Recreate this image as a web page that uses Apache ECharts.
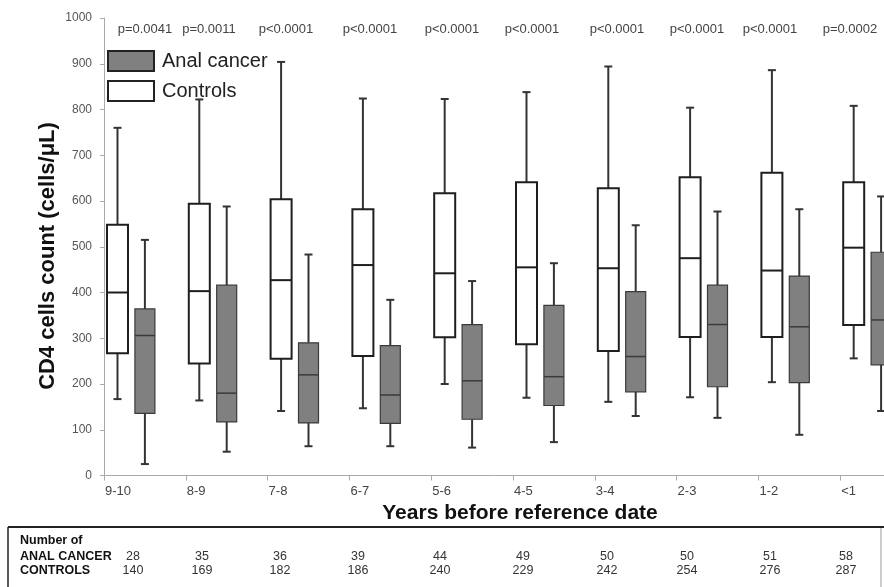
<!DOCTYPE html>
<html lang="en">
<head>
    <meta charset="UTF-8">
    <title>CD4 cells count before reference date</title>
    <script src="https://cdn.jsdelivr.net/npm/echarts@6/dist/echarts.min.js"></script>
    <style>
        html, body { margin: 0; padding: 0; background: #fff; }
        #chart { width: 884px; height: 587px; }
    </style>
</head>
<body>
<div id="chart"></div>
<script>
    // data
    var categories = ['9-10', '8-9', '7-8', '6-7', '5-6', '4-5', '3-4', '2-3', '1-2', '<1'];
    // [min, Q1, median, Q3, max]
    var controls = [
        [167, 267, 400, 548, 760],
        [164, 245, 403, 594, 822],
        [141, 255, 427, 604, 904],
        [147, 261, 460, 582, 824],
        [200, 302, 442, 617, 823],
        [170, 287, 455, 641, 838],
        [161, 272, 453, 628, 894],
        [171, 303, 475, 652, 804],
        [204, 303, 448, 662, 886],
        [256, 329, 498, 641, 808]
    ];
    var analCancer = [
        [25, 136, 306, 364, 515],
        [52, 117, 180, 416, 588],
        [64, 115, 220, 290, 483],
        [64, 114, 176, 284, 384],
        [61, 123, 207, 330, 425],
        [73, 153, 216, 372, 464],
        [130, 183, 260, 402, 547],
        [126, 194, 330, 416, 577],
        [89, 203, 325, 436, 582],
        [141, 242, 340, 488, 610]
    ];
    var pValues = ['p=0.0041', 'p=0.0011', 'p<0.0001', 'p<0.0001', 'p<0.0001',
        'p<0.0001', 'p<0.0001', 'p<0.0001', 'p<0.0001', 'p=0.0002'];
    var nCancer = [28, 35, 36, 39, 44, 49, 50, 50, 51, 58];
    var nControls = [140, 169, 182, 186, 240, 229, 242, 254, 276, 287];

    // layout (pixels)
    var pX = [145, 209, 286, 370, 452, 532, 617, 697, 770, 850];
    var colX = [133, 202, 280, 358, 440, 523, 607, 687, 770, 846];

    function toItems(rows, shift) {
        return rows.map(function (r, i) { return [i + shift].concat(r); });
    }

    function boxRenderer(s) {
        return function (params, api) {
            var x = api.value(0);
            var lo = api.coord([x, api.value(1)]);
            var q1 = api.coord([x, api.value(2)]);
            var md = api.coord([x, api.value(3)]);
            var q3 = api.coord([x, api.value(4)]);
            var hi = api.coord([x, api.value(5)]);
            var cx = lo[0];
            var hw = s.width / 2;
            var wStyle = { stroke: '#333', lineWidth: 2 };
            return {
                type: 'group',
                children: [
                    { type: 'line', shape: { x1: cx, y1: hi[1], x2: cx, y2: q3[1] }, style: wStyle },
                    { type: 'line', shape: { x1: cx, y1: q1[1], x2: cx, y2: lo[1] }, style: wStyle },
                    { type: 'line', shape: { x1: cx - 4, y1: hi[1], x2: cx + 4, y2: hi[1] }, style: wStyle },
                    { type: 'line', shape: { x1: cx - 4, y1: lo[1], x2: cx + 4, y2: lo[1] }, style: wStyle },
                    {
                        type: 'rect',
                        shape: { x: cx - hw, y: q3[1], width: s.width, height: q1[1] - q3[1] },
                        style: { fill: s.fill, stroke: s.stroke, lineWidth: s.lineWidth }
                    },
                    {
                        type: 'line',
                        shape: { x1: cx - hw, y1: md[1], x2: cx + hw, y2: md[1] },
                        style: { stroke: s.stroke, lineWidth: s.medianWidth }
                    }
                ]
            };
        };
    }

    var chart = echarts.init(document.getElementById('chart'), null, { renderer: 'canvas' });

    var graphics = [];
    pValues.forEach(function (p, i) {
        graphics.push({
            type: 'text', x: pX[i], y: 29,
            style: { text: p, fill: '#444', font: '13px Arial, "Liberation Sans"', align: 'center', verticalAlign: 'middle' }
        });
    });
    graphics.push({
        type: 'text', x: 48, y: 256, rotation: Math.PI / 2,
        style: { text: 'CD4 cells count (cells/μL)', fill: '#111', font: 'bold 22px Arial, "Liberation Sans"', align: 'center', verticalAlign: 'middle' }
    });
    graphics.push({
        type: 'text', x: 520, y: 513,
        style: { text: 'Years before reference date', fill: '#111', font: 'bold 21px Arial, "Liberation Sans"', align: 'center', verticalAlign: 'middle' }
    });
    // table under the chart
    graphics.push({
        type: 'rect', shape: { x: 8, y: 527, width: 873, height: 70 },
        style: { fill: 'none', stroke: '#999', lineWidth: 1 }
    });
    graphics.push({
        type: 'line', shape: { x1: 8, y1: 527, x2: 884, y2: 527 },
        style: { stroke: '#222', lineWidth: 2 }
    });
    graphics.push({
        type: 'line', shape: { x1: 8, y1: 527, x2: 8, y2: 590 },
        style: { stroke: '#333', lineWidth: 1.5 }
    });
    var rowLabels = [['Number of', 540.5], ['ANAL CANCER', 556.5], ['CONTROLS', 570.5]];
    rowLabels.forEach(function (r) {
        graphics.push({
            type: 'text', x: 20, y: r[1],
            style: { text: r[0], fill: '#111', font: 'bold 12.5px Arial, "Liberation Sans"', align: 'left', verticalAlign: 'middle' }
        });
    });
    colX.forEach(function (x, i) {
        graphics.push({
            type: 'text', x: x, y: 556.5,
            style: { text: String(nCancer[i]), fill: '#333', font: '12.5px Arial, "Liberation Sans"', align: 'center', verticalAlign: 'middle' }
        });
        graphics.push({
            type: 'text', x: x, y: 570.5,
            style: { text: String(nControls[i]), fill: '#333', font: '12.5px Arial, "Liberation Sans"', align: 'center', verticalAlign: 'middle' }
        });
    });

    var option = {
        animation: false,
        backgroundColor: '#fff',
        textStyle: { fontFamily: 'Arial, "Liberation Sans", sans-serif' },
        grid: { left: 104, right: -38, top: 18, bottom: 111.5, containLabel: false, outerBoundsMode: 'none' },
        legend: {
            orient: 'vertical',
            left: 107, top: 50, padding: 0,
            itemWidth: 46, itemHeight: 20, itemGap: 8,
            textStyle: { fontSize: 20, color: '#222', padding: [0, 0, 0, 3] },
            data: [
                { name: 'Anal cancer', icon: 'rect', itemStyle: { color: '#808080', borderColor: '#222', borderWidth: 2 } },
                { name: 'Controls', icon: 'rect', itemStyle: { color: '#fff', borderColor: '#222', borderWidth: 2 } }
            ]
        },
        xAxis: {
            type: 'value', min: 0, max: 10, interval: 1,
            axisLine: { lineStyle: { color: '#aaa' } },
            axisTick: { show: true, length: 5, lineStyle: { color: '#aaa' } },
            axisLabel: {
                color: '#444', fontSize: 13, margin: 9, align: 'left', padding: [0, 0, 0, 1],
                formatter: function (v) { return categories[v] || ''; }
            },
            splitLine: { show: false }
        },
        yAxis: {
            type: 'value', min: 0, max: 1000, interval: 100,
            axisLine: { show: true, lineStyle: { color: '#aaa' } },
            axisTick: { show: true, length: 4, lineStyle: { color: '#aaa' } },
            axisLabel: { color: '#555', fontSize: 12, margin: 12, formatter: function (v) { return String(v); } },
            splitLine: { show: false }
        },
        series: [
            {
                name: 'Controls', type: 'custom',
                encode: { x: 0, y: [1, 2, 3, 4, 5] },
                itemStyle: { color: '#fff' },
                renderItem: boxRenderer({ width: 21, fill: '#fff', stroke: '#1e1e1e', lineWidth: 2, medianWidth: 2 }),
                data: toItems(controls, 0.165)
            },
            {
                name: 'Anal cancer', type: 'custom',
                encode: { x: 0, y: [1, 2, 3, 4, 5] },
                itemStyle: { color: '#808080' },
                renderItem: boxRenderer({ width: 20, fill: '#808080', stroke: '#3a3a3a', lineWidth: 1.2, medianWidth: 1.5 }),
                data: toItems(analCancer, 0.5)
            }
        ],
        graphic: graphics
    };
    chart.setOption(option);
</script>
</body>
</html>
